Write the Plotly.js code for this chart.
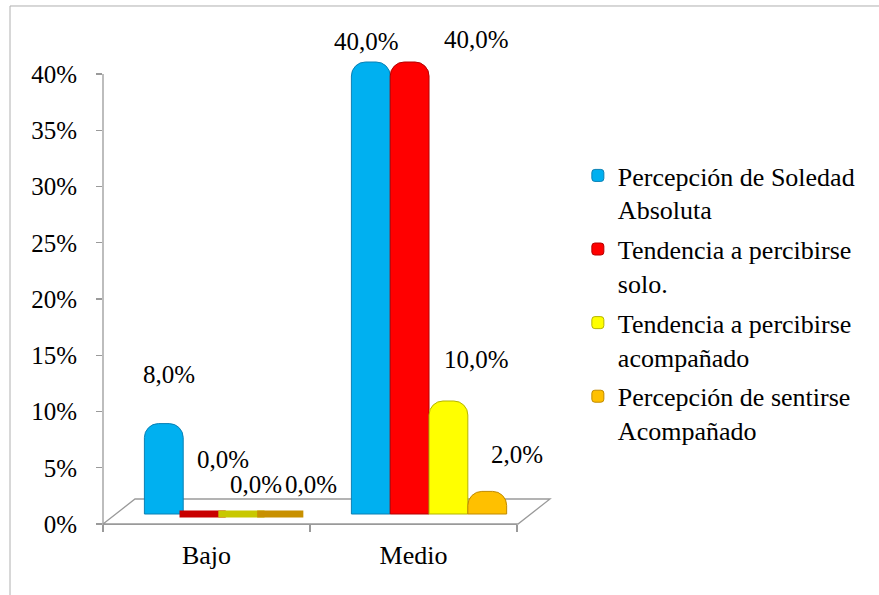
<!DOCTYPE html>
<html>
<head>
<meta charset="utf-8">
<script src="https://cdn.plot.ly/plotly-3.0.1.min.js"></script>
<style>
  html, body { margin: 0; padding: 0; background: #ffffff; }
  #chart { width: 879px; height: 595px; }
</style>
</head>
<body>
<div id="chart"></div>
<script>
// Nivel de soledad percibida por categoría (porcentajes)
const categories = ['Bajo', 'Medio'];
const seriesNames = [
  'Percepción de Soledad<br>Absoluta',
  'Tendencia a percibirse<br>solo.',
  'Tendencia a percibirse<br>acompañado',
  'Percepción de sentirse<br>Acompañado'
];
const soledadAbsoluta = [8, 40];
const tendenciaSolo = [0, 40];
const tendenciaAcompanado = [0, 10];
const sentirseAcompanado = [0, 2];

// Styling
const barColors = ['#00b0f0', '#ff0000', '#ffff00', '#ffc000'];
const edgeColors = ['#0b80b4', '#b40000', '#b4b400', '#c08a00'];
const capColors = ['#0090c8', '#c80000', '#c8c800', '#c89000'];
// label nudges [dx, dy] in px from each category's centre on the bar axis
const labelShift = [
  [[-53, 49], [-63, 21]],
  [[1, 55], [47, 23]],
  [[34, 30], [47, 42]],
  [[89, 30], [88, 37]]
];

const FONT = 'Liberation Serif';
const AXIS = '#9a9a9a';

const seriesValues = [soledadAbsoluta, tendenciaSolo, tendenciaAcompanado, sentirseAcompanado];
const fmt = v => v.toFixed(1).replace('.', ',') + '%';

const traces = [];
seriesValues.forEach((vals, i) => {
  traces.push({
    type: 'bar',
    x: categories,
    y: vals,
    name: seriesNames[i],
    xaxis: 'x2',
    yaxis: 'y2',
    offsetgroup: 'g' + i,
    legendgroup: 'g' + i,
    marker: {
      color: barColors[i],
      line: { color: edgeColors[i], width: 1 },
      cornerradius: 14
    },
    hoverinfo: 'x+y'
  });
});
// flat cylinder caps where a bar has no height
seriesValues.forEach((vals, i) => {
  traces.push({
    type: 'scatter',
    mode: 'markers',
    x: categories,
    y: vals.map(v => (v === 0 ? v : null)),
    xaxis: 'x2',
    yaxis: 'y2',
    offsetgroup: 'g' + i,
    showlegend: false,
    cliponaxis: false,
    hoverinfo: 'skip',
    marker: { symbol: 'line-ew', size: 33, line: { width: 7, color: capColors[i] } }
  });
});

const annotations = [];
seriesValues.forEach((vals, i) => {
  vals.forEach((v, c) => {
    annotations.push({
      xref: 'x2', yref: 'y2',
      x: categories[c], y: v,
      text: fmt(v),
      showarrow: false,
      xshift: labelShift[i][c][0],
      yshift: labelShift[i][c][1],
      font: { family: FONT, size: 25, color: '#000000' }
    });
  });
});

const layout = {
  width: 879,
  height: 595,
  margin: { l: 103, r: 362, t: 30, b: 71, pad: 0 },
  paper_bgcolor: '#ffffff',
  plot_bgcolor: 'rgba(0,0,0,0)',
  font: { family: FONT, size: 25, color: '#000000' },
  barmode: 'group',
  bargap: 0.25,
  bargroupgap: 0,
  scattermode: 'group',
  scattergap: 0.25,
  showlegend: true,
  legend: {
    x: 1.147, xanchor: 'left',
    y: 0.753, yanchor: 'top',
    valign: 'top',
    tracegroupgap: 3,
    bgcolor: 'rgba(0,0,0,0)',
    font: { family: FONT, size: 26, color: '#000000' }
  },
  xaxis: {
    type: 'linear',
    range: [-0.5, 1.5],
    tickmode: 'array',
    tickvals: categories.map((_, i) => i),
    ticktext: categories,
    ticks: '',
    ticklabelstandoff: 7,
    tickfont: { family: FONT, size: 26, color: '#000000' },
    showline: true,
    linecolor: AXIS,
    linewidth: 1.3,
    showgrid: false,
    zeroline: false,
    minor: { ticks: 'outside', ticklen: 7, tickcolor: AXIS, tickwidth: 1.3, tick0: -0.5, dtick: 1, showgrid: false },
    fixedrange: true
  },
  yaxis: {
    range: [0, 43.911],
    tick0: 0,
    dtick: 5,
    ticksuffix: '%',
    ticks: 'outside',
    ticklen: 6,
    tickcolor: AXIS,
    tickwidth: 1.3,
    ticklabelstandoff: 14,
    tickfont: { family: FONT, size: 25, color: '#000000' },
    showline: false,
    showgrid: false,
    zeroline: false,
    fixedrange: true
  },
  xaxis2: {
    type: 'category',
    overlaying: 'x',
    anchor: 'y2',
    range: [-0.575, 1.425],
    visible: false,
    fixedrange: true
  },
  yaxis2: {
    overlaying: 'y',
    anchor: 'x2',
    range: [-0.885, 42.832],
    visible: false,
    fixedrange: true
  },
  shapes: [
    // outer frame
    { type: 'rect', xref: 'paper', yref: 'paper', x0: -0.2246, x1: 1.9, y0: -0.2, y1: 1.0486,
      line: { color: '#b0b0b0', width: 1 }, layer: 'below' },
    // floor of the 3-D plot
    { type: 'path', xref: 'paper', yref: 'paper',
      path: 'M0,0 L0.0773,0.0506 L1.0797,0.0506 L1.0024,0 Z',
      line: { color: AXIS, width: 1.3 }, layer: 'below' },
    // value axis line
    { type: 'line', xref: 'paper', yref: 'y', x0: 0, x1: 0, y0: 0, y1: 40,
      line: { color: AXIS, width: 1.3 }, layer: 'below' }
  ],
  annotations: annotations
};

Plotly.newPlot('chart', traces, layout, { displayModeBar: false, staticPlot: true });
</script>
</body>
</html>
